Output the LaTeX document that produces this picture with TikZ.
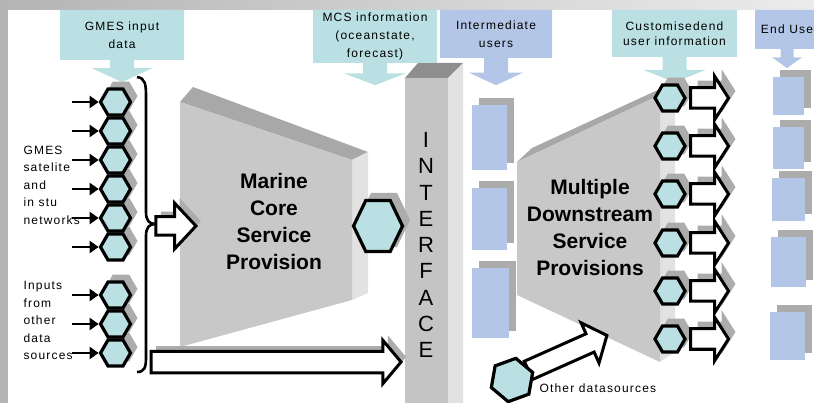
\documentclass[tikz,border=0pt]{standalone}
\usepackage{fontspec}
\setmainfont{Liberation Sans}
\newfontfamily\spaced[LetterSpace=10]{Liberation Sans}
\usetikzlibrary{shapes.geometric,shapes.arrows,shadows,arrows.meta}

\definecolor{seafill}{RGB}{186,224,227}
\definecolor{userfill}{RGB}{180,198,231}
\definecolor{slabfront}{RGB}{200,200,200}
\definecolor{slabtop}{RGB}{168,168,168}
\definecolor{slabside}{RGB}{226,226,226}
\definecolor{pillarfront}{RGB}{196,196,196}
\definecolor{pillartop}{RGB}{142,142,142}
\definecolor{castgrey}{RGB}{172,172,172}
\definecolor{framegrey}{RGB}{180,180,180}

\begin{document}
\begin{tikzpicture}[x=1pt,y=-1pt,
  hexa/.style={draw, line width=3.2pt, fill=seafill, regular polygon, regular polygon sides=6, minimum size=30pt, inner sep=0pt},
  hexcast/.style={fill=castgrey, regular polygon, regular polygon sides=6, minimum size=33pt, inner sep=0pt},
  feed/.style={line width=2.8pt, -{Triangle[length=9pt,width=12pt]}},
  cast/.style={general shadow={fill=castgrey, shadow xshift=#1, shadow yshift=#1}},
  hollow/.style={single arrow, draw, fill=white, line width=3pt, inner sep=0pt, text depth=0pt},
  infobox/.style={arrow box, fill=#1, inner sep=0pt, align=center, font=\spaced\fontsize{12}{18}\selectfont},
  userbox/.style={fill=userfill, inner sep=0pt, anchor=north west, cast=7pt},
  note/.style={font=\spaced\fontsize{12}{17.5}\selectfont, align=left},
  headline/.style={font=\bfseries\fontsize{21}{27}\selectfont, align=center}]
\useasboundingbox (0,0) rectangle (814,403);
\clip (0,0) rectangle (814,403);

% frame
\shade[left color=framegrey, right color=gray!15] (0,0) rectangle (814,10);
\fill[framegrey] (0,0) rectangle (8,403);

% marine core slab
\fill[slabtop] (180,102) -- (193,87) -- (368,152) -- (352,160) -- cycle;
\fill[slabside] (352,160) -- (368,152) -- (368,293) -- (352,300) -- cycle;
\fill[slabfront] (180,102) -- (352,160) -- (352,300) -- (180,347) -- cycle;
\node[headline] (mcsp) at (274,221) {Marine\\Core\\Service\\Provision};

% interface pillar
\fill[pillartop] (405,78) -- (418,63) -- (463,63) -- (448,78) -- cycle;
\fill[slabside] (448,78) -- (463,63) -- (463,403) -- (448,403) -- cycle;
\fill[pillarfront] (405,78) rectangle (448,403);
\node[font=\fontsize{22}{26.25}\selectfont, align=center] (iface) at (426,245) {I\\N\\T\\E\\R\\F\\A\\C\\E};

% downstream slab
\fill[slabtop] (517,162) -- (532,148) -- (675,82) -- (660,95) -- cycle;
\fill[slabside] (660,95) -- (675,82) -- (675,352) -- (660,362) -- cycle;
\fill[slabfront] (517,162) -- (660,95) -- (660,362) -- (517,295) -- cycle;
\node[headline] (mdsp) at (590,227) {Multiple\\Downstream\\Service\\Provisions};

% headers
\node[infobox=seafill, minimum width=124pt, minimum height=50pt, arrow box arrows={south:22pt from border},
  arrow box shaft width=24pt, arrow box head extend=18pt, arrow box tip angle=130] (gin) at (122,35) {GMES input\\data};
\node[infobox=seafill, minimum width=124pt, minimum height=53pt, arrow box arrows={south:22pt from border},
  arrow box shaft width=24pt, arrow box head extend=19pt, arrow box tip angle=138] (mcsi) at (375,36.5) {MCS information\\(oceanstate,\\forecast)};
\node[infobox=userfill, minimum width=112pt, minimum height=48pt, arrow box arrows={south:27pt from border},
  arrow box shaft width=24pt, arrow box head extend=15pt, arrow box tip angle=130] (imu) at (496,34) {Intermediate\\users};
\node[infobox=seafill, minimum width=125pt, minimum height=47pt, arrow box arrows={south:25pt from border},
  arrow box shaft width=24pt, arrow box head extend=19pt, arrow box tip angle=137] (ceui) at (674.5,33.5) {Customisedend\\[-3pt]user information};
\node[infobox=userfill, minimum width=64pt, minimum height=39pt, arrow box arrows={south:19pt from border},
  arrow box shaft width=13pt, arrow box head extend=8.5pt, arrow box tip angle=108] (endu) at (787,29.5) {End Use};

% intermediate and end users
\node[userbox, minimum width=35pt, minimum height=65pt] (iu1) at (472,105) {};
\node[userbox, minimum width=35pt, minimum height=62pt] (iu2) at (472,188) {};
\node[userbox, minimum width=37pt, minimum height=70pt] (iu3) at (472,268) {};
\node[userbox, minimum width=31pt, minimum height=38pt] (eu1) at (773,77) {};
\node[userbox, minimum width=31pt, minimum height=42pt] (eu2) at (773,127) {};
\node[userbox, minimum width=33pt, minimum height=43pt] (eu3) at (772,178) {};
\node[userbox, minimum width=35pt, minimum height=50pt] (eu4) at (771,237) {};
\node[userbox, minimum width=35pt, minimum height=48pt] (eu5) at (770,312) {};

% input sources
\node[note, anchor=west] (gmesnet) at (20,185) {GMES\\satelite\\and\\in stu\\networks};
\node[note, anchor=west] (othernet) at (20,320.5) {Inputs\\from\\other\\data\\sources};
\foreach \y [count=\i] in {102,131,160,189,218,247,295,324,353}
  \node[hexcast] (inc\i) at (121,\y-6) {};
\foreach \y [count=\i] in {102,131,160,189,218,247,295,324,353} {
  \node[hexa] (in\i) at (115.5,\y) {};
  \coordinate (src\i) at (72,\y);
  \draw[feed] (src\i) -- (in\i);
}
\draw[line width=2.6pt] (137,77) .. controls (145,78) and (146,84) .. (146,96) -- (146,212)
  .. controls (146,220) and (149,224) .. (155,224) .. controls (149,224) and (146,228) .. (146,236)
  -- (146,358) .. controls (146,368) and (144,372) .. (137,372);
\node[hollow, cast=5pt, text height=15.5pt, single arrow head extend=13.5pt, single arrow tip angle=94,
  minimum height=40pt, anchor=tip] (tocore) at (198,226) {};
\node[hollow, cast=5pt, text height=18.5pt, single arrow head extend=11pt, single arrow tip angle=100,
  minimum height=250pt, anchor=tip] (bypass) at (403,362) {};

% core product
\begin{scope}[shift={(384,220)}]
\node[hexcast, minimum size=52pt, yscale=1.2, transform shape] (corecast) at (0,0) {};
\end{scope}
\begin{scope}[shift={(378,226)}]
\node[hexa, minimum size=49pt, yscale=1.2, transform shape] (core) at (0,0) {};
\end{scope}

% downstream products
\foreach \y [count=\i] in {98,146,194,243,291,339}
  \node[hexcast] (outc\i) at (676,\y-6) {};
\foreach \y [count=\i] in {98,146,194,243,291,339} {
  \node[hexa] (out\i) at (670,\y) {};
  \node[hollow, cast=7pt, text height=17.5pt, single arrow head extend=11.5pt, single arrow tip angle=115,
    minimum height=38pt, anchor=tail] (deliver\i) at (689,\y) {};
}

% other data sources
\node[hollow, text height=17pt, single arrow head extend=12pt, single arrow tip angle=100,
  minimum height=86pt, anchor=tail, rotate=24] (extra) at (527,371) {};
\node[hexa, minimum size=44pt, rotate=20] (odsrc) at (512,380) {};
\node[note, anchor=west] (odlabel) at (536,388) {Other datasources};
\end{tikzpicture}
\end{document}
